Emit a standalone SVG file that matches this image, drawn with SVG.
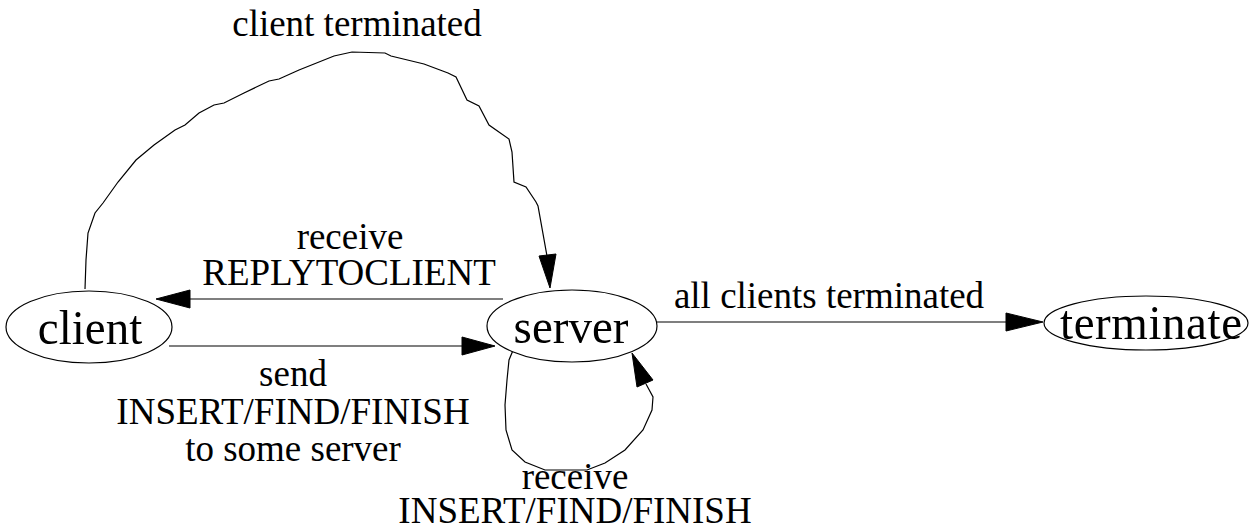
<svg xmlns="http://www.w3.org/2000/svg" width="1249" height="529" viewBox="0 0 1249 529">
<style>
.node ellipse{fill:#fff;stroke:#000;stroke-width:1.2}
.nl{font-family:"Liberation Serif","Times New Roman",serif;font-size:47px;text-anchor:middle;fill:#000}
.el{font-family:"Liberation Serif","Times New Roman",serif;font-size:37px;text-anchor:middle;fill:#000}
.edge{fill:none;stroke:#000;stroke-width:1.2}
.head{fill:#000;stroke:#000;stroke-width:1}
</style>
<rect width="1249" height="529" fill="#fff"/>
<g id="connectors">
  <path class="edge" d="M85,289 L86,260 L88,233 L95,213 L103,203 L118,182 L136,160 L154,145 L175,130 L185,125 L199,113 L214,105 L224,103 L244,93 L269,81 L279,79 L299,70 L334,56 L352,52 L385,53 L391,56 L424,64 L448,73 L456,77 L467,100 L479,106 L489,125 L509,139 L512,152 L514,182 L526,187 L536,202 L538,206 L547,256"/>
  <polygon class="head" points="550,288 539,256 556,254"/>
  <path class="edge" d="M503,299 L190,299"/>
  <polygon class="head" points="156,299 190,290 190,308"/>
  <path class="edge" d="M169,346 L462,346"/>
  <polygon class="head" points="495,346 462,337 462,355"/>
  <path class="edge" d="M657,322 L1006,322"/>
  <polygon class="head" points="1043,322 1006,313 1006,331"/>
  <path class="edge" d="M514,348 L509,360 L507,380 L505,405 L506,430 L512,450 L525,462 L545,470 L587,470 L605,463 L625,450 L643,430 L652,410 L653,397 L646,384"/>
  <polygon class="head" points="632,353 637,387 653,380"/>
</g>
<g id="node-client" class="node">
  <ellipse cx="89" cy="327" rx="83" ry="36"/>
  <text class="nl" transform="translate(90,344) scale(1,1.05)">client</text>
</g>
<g id="node-server" class="node">
  <ellipse cx="572" cy="326" rx="85" ry="36"/>
  <text class="nl" transform="translate(571,343) scale(1,1.05)">server</text>
</g>
<g id="node-terminate" class="node">
  <ellipse cx="1146" cy="323" rx="102" ry="27"/>
  <text class="nl" transform="translate(1151,339) scale(1,1.05)" textLength="182">terminate</text>
</g>
<g id="labels">
  <text class="el" transform="translate(357,36) scale(1,1.05)">client terminated</text>
  <text class="el" transform="translate(350,249) scale(1,1.05)">receive</text>
  <text class="el" transform="translate(349,285) scale(1,1.05)">REPLYTOCLIENT</text>
  <text class="el" transform="translate(829,308) scale(1,1.05)">all clients terminated</text>
  <text class="el" transform="translate(293,386) scale(1,1.05)">send</text>
  <text class="el" transform="translate(293,424) scale(1,1.05)">INSERT/FIND/FINISH</text>
  <text class="el" transform="translate(293,461) scale(1,1.05)">to some server</text>
  <text class="el" transform="translate(575,489) scale(1,1.05)">receive</text>
  <text class="el" transform="translate(575,523) scale(1,1.05)">INSERT/FIND/FINISH</text>
</g>
</svg>
